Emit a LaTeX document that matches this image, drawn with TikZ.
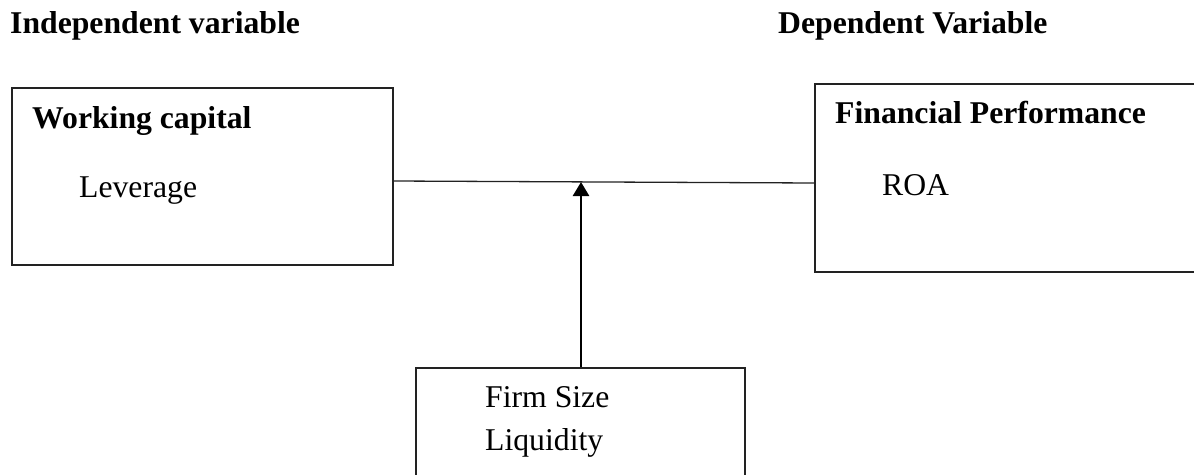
\documentclass[tikz,border=0pt]{standalone}
\usepackage{fontspec}
\setmainfont{Liberation Serif}
\usetikzlibrary{arrows.meta}
\begin{document}
\begin{tikzpicture}[x=1pt, y=-1pt]
  \definecolor{edge}{HTML}{222222}
  \newcommand{\lbl}[1]{\fontsize{31.7}{38}\selectfont #1}
  \newcommand{\hdr}[1]{\fontsize{31.7}{38}\selectfont\bfseries #1}
  \tikzstyle{block}     = [rectangle, draw = edge, line width=1.4pt, inner sep=0pt]
  \tikzstyle{txt}       = [anchor=base west, inner sep=0pt]
  \tikzstyle{link}      = [line width=1.3pt, draw = edge]
  \tikzstyle{connector} = [line width=2.6pt, -{Triangle[length=14pt, width=16pt]}]
  \clip (0,0) rectangle (1194,474);
  \useasboundingbox (0,0) rectangle (1194,474);
  % boxes
  \node [block, minimum width=381pt, minimum height=177pt] (capital)  at (202.5,176.5) {};
  \node [block, minimum width=415pt, minimum height=188pt] (perform)  at (1022.5,178)  {};
  \node [block, minimum width=329pt, minimum height=152pt] (moderate) at (580.5,444)   {};
  % headings
  \node [txt] (indep) at (10,33)  {\hdr{Independent variable}};
  \node [txt] (dep)   at (778,33) {\hdr{Dependent Variable}};
  % box texts
  \node [txt] (capitaltitle) at (32,128)  {\hdr{Working capital}};
  \node [txt] (leverage)     at (79,197)  {\lbl{Leverage}};
  \node [txt] (performtitle) at (835,123) {\hdr{Financial Performance}};
  \node [txt] (roa)          at (882,195) {\lbl{ROA}};
  \node [txt] (size)         at (485,407) {\lbl{Firm Size}};
  \node [txt] (liquidity)    at (485,450) {\lbl{Liquidity}};
  % connectors
  \coordinate (join) at (581,182);
  \draw [link] ([yshift=-4.5pt]capital.east) -- ([yshift=-5pt]perform.west);
  \draw [connector] (moderate.north -| join) -- (join);
\end{tikzpicture}
\end{document}
